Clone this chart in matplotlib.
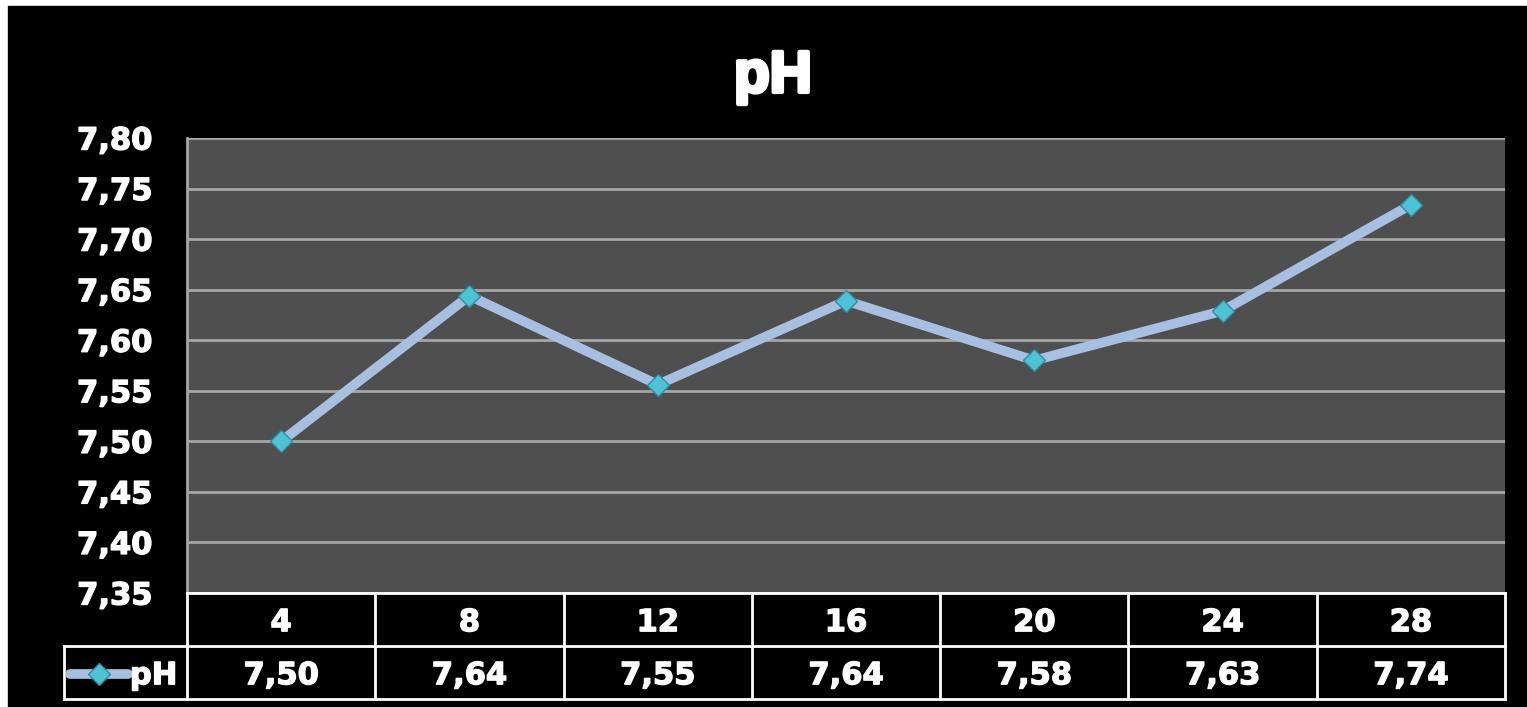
import matplotlib.pyplot as plt
import matplotlib.patheffects as pe
from matplotlib.lines import Line2D

# --- data ---
weeks = ["4", "8", "12", "16", "20", "24", "28"]
ph_values = [7.50, 7.644, 7.556, 7.639, 7.580, 7.629, 7.734]
ph_labels = ["7,50", "7,64", "7,55", "7,64", "7,58", "7,63", "7,74"]
y_ticks = [7.35, 7.40, 7.45, 7.50, 7.55, 7.60, 7.65, 7.70, 7.75, 7.80]

W, H = 1527, 707
plt.rcParams['font.family'] = ['DejaVu Sans']
plt.rcParams['font.weight'] = 'bold'

fig = plt.figure(figsize=(W / 100, H / 100), dpi=100)
fig.patch.set_facecolor('white')
# black chart area with thin white margin top/left
fig.patches.append(plt.Rectangle((8 / W, 0), 1 - 8 / W, 1 - 6 / H,
                                 transform=fig.transFigure, color='black', zorder=-10))

def px(x0, y0, x1, y1):
    return [x0 / W, 1 - y1 / H, (x1 - x0) / W, (y1 - y0) / H]

heavy = [pe.withStroke(linewidth=1.0, foreground='white')]

ax = fig.add_axes(px(187, 138, 1505, 593))
ax.set_facecolor('#4f4f4f')
x = list(range(1, len(weeks) + 1))
ax.set_xlim(0.5, len(weeks) + 0.5)
ax.set_ylim(7.35, 7.80)
ax.set_yticks(y_ticks)
ax.set_yticklabels([f"{v:.2f}".replace('.', ',') for v in y_ticks])
ax.tick_params(axis='y', length=0, pad=25, labelsize=22, labelcolor='white')
ax.set_xticks([])
for lab in ax.get_yticklabels():
    lab.set_fontweight('bold')
    lab.set_path_effects(heavy)
ax.grid(axis='y', color='#a6a6a6', linewidth=2)
ax.set_axisbelow(True)
for s in ['top', 'right', 'bottom']:
    ax.spines[s].set_visible(False)
ax.spines['left'].set_color('#a6a6a6')
ax.spines['left'].set_linewidth(2)

ax.plot(x, ph_values, color='#a7bfe0', linewidth=7, solid_capstyle='butt',
        marker='D', markersize=11, markerfacecolor='#4ec3d6',
        markeredgecolor='#2d8ea0', markeredgewidth=1, zorder=3)

fig.text(773 / W, 1 - 77 / H, "pH", color='white', fontsize=42,
         fontweight='bold', ha='center', va='center', family='Liberation Sans',
         path_effects=[pe.withStroke(linewidth=3, foreground='white')])

# --- data table ---
tax = fig.add_axes(px(187, 593, 1505, 699))
tax.set_xlim(0.5, len(weeks) + 0.5)
tax.set_ylim(0, 2)
tax.axis('off')
lw = 2
tax.plot([0.5, 7.5], [2, 2], color='white', lw=lw, clip_on=False)
tax.plot([0.5, 7.5], [0, 0], color='white', lw=lw, clip_on=False)
tax.plot([0.5, 7.5], [1, 1], color='white', lw=lw, clip_on=False)
for i in range(len(weeks) + 1):
    tax.plot([0.5 + i, 0.5 + i], [0, 2], color='white', lw=lw, clip_on=False)
# legend cell to the left
left = 0.5 - (187 - 64) / ((1505 - 187) / 7)
tax.plot([left, 0.5], [1, 1], color='white', lw=lw, clip_on=False)
tax.plot([left, 0.5], [0, 0], color='white', lw=lw, clip_on=False)
tax.plot([left, left], [0, 1], color='white', lw=lw, clip_on=False)
for xi, w, v in zip(x, weeks, ph_labels):
    tax.text(xi, 1.44, w, color='white', fontsize=22, fontweight='bold',
             ha='center', va='center', path_effects=heavy)
    tax.text(xi, 0.44, v, color='white', fontsize=22, fontweight='bold',
             ha='center', va='center', path_effects=heavy)
lx0 = left + 0.03
lx1 = left + 0.34
tax.add_line(Line2D([lx0, lx1], [0.48, 0.48], color='#a7bfe0', lw=7,
                    solid_capstyle='round', clip_on=False))
tax.add_line(Line2D([(lx0 + lx1) / 2], [0.48], marker='D', markersize=11,
                    markerfacecolor='#4ec3d6', markeredgecolor='#2d8ea0',
                    markeredgewidth=1, clip_on=False))
tax.text(lx1 + 0.01, 0.44, "pH", color='white', fontsize=22, fontweight='bold',
         ha='left', va='center', path_effects=heavy)

fig.savefig('out.png', dpi=100, facecolor=fig.get_facecolor())
